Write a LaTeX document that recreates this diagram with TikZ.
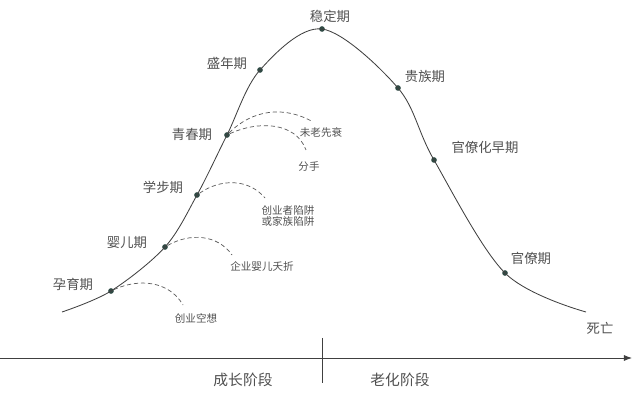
\documentclass[tikz,border=0pt]{standalone}
\usepackage{fontspec}
\setmainfont{Noto Sans CJK SC}
\usetikzlibrary{arrows.meta}
\definecolor{txtgray}{HTML}{505050}
\definecolor{dotgreen}{HTML}{2F4A44}

\begin{document}
\begin{tikzpicture}[x=0.025cm,y=0.025cm,>=Latex,
  dot/.style={circle,fill=dotgreen,inner sep=0pt,minimum size=4pt},
  stage/.style={text=txtgray,font=\fontsize{9.5pt}{11pt}\selectfont,inner sep=0pt},
  trap/.style={text=txtgray,font=\fontsize{7.5pt}{9pt}\selectfont,inner sep=0pt,align=center},
  phase/.style={text=txtgray,font=\fontsize{10.5pt}{12pt}\selectfont,inner sep=0pt},
  dashline/.style={dashed,dash pattern=on 3pt off 2pt,gray!70!black,line width=0.5pt}]
  \useasboundingbox (0,0) rectangle (640,396);
  % life cycle curve
  \coordinate (start) at (62,84);
  \coordinate (dead) at (586,84);
  \node[dot] (yunyu) at (111,105) {};
  \node[dot] (yinger) at (165,149) {};
  \node[dot] (xuebu) at (197,201) {};
  \node[dot] (qingchun) at (227,261) {};
  \node[dot] (shengnian) at (260,326) {};
  \node[dot] (wending) at (322,367) {};
  \node[dot] (guizu) at (398,308) {};
  \node[dot] (zaoqi) at (434,236) {};
  \node[dot] (guanliao) at (505,123) {};
  \draw[black!75,line width=0.6pt] plot[smooth,tension=0.55] coordinates
    {(start) (yunyu) (yinger) (xuebu) (qingchun) (shengnian) (wending) (guizu) (zaoqi) (guanliao) (dead)};
  \node[stage] (l-yunyu) at (73,112) {孕育期};
  \node[stage] (l-yinger) at (127,153) {婴儿期};
  \node[stage] (l-xuebu) at (163,209) {学步期};
  \node[stage] (l-qingchun) at (192,262) {青春期};
  \node[stage] (l-shengnian) at (227,333) {盛年期};
  \node[stage] (l-wending) at (330,380) {稳定期};
  \node[stage] (l-guizu) at (425,320) {贵族期};
  \node[stage] (l-zaoqi) at (485,249) {官僚化早期};
  \node[stage] (l-guanliao) at (531,138) {官僚期};
  \node[stage] (l-dead) at (600,68) {死亡};
  % traps
  \coordinate (e1) at (183,91);
  \coordinate (e2) at (232,141);
  \coordinate (e3) at (265,198);
  \coordinate (e4) at (313,274);
  \coordinate (e5) at (306,246);
  \node[trap] (t1) at (196,78) {创业空想};
  \node[trap] (t2) at (262,130) {企业婴儿夭折};
  \node[trap] (t3) at (288,180) {创业者陷阱\\[-1pt]或家族陷阱};
  \node[trap] (t4) at (321,264) {未老先衰};
  \node[trap] (t5) at (309,229) {分手};
  \draw[dashline] (yunyu) to[out=25,in=120] (e1);
  \draw[dashline] (yinger) to[out=30,in=125] (e2);
  \draw[dashline] (xuebu) to[out=35,in=130] (e3);
  \draw[dashline] (qingchun) to[out=45,in=150] (e4);
  \draw[dashline] (qingchun) to[out=25,in=110] (e5);
  % axis
  \coordinate (axl) at (0,38);
  \coordinate (axr) at (632,38);
  \coordinate (divt) at (322,58);
  \coordinate (divb) at (322,13);
  \draw[->,black!75,line width=0.6pt] (axl) -- (axr);
  \draw[black!75,line width=0.6pt] (divt) -- (divb);
  \node[phase] (grow) at (243,16) {成长阶段};
  \node[phase] (age) at (400,16) {老化阶段};
\end{tikzpicture}
\end{document}
